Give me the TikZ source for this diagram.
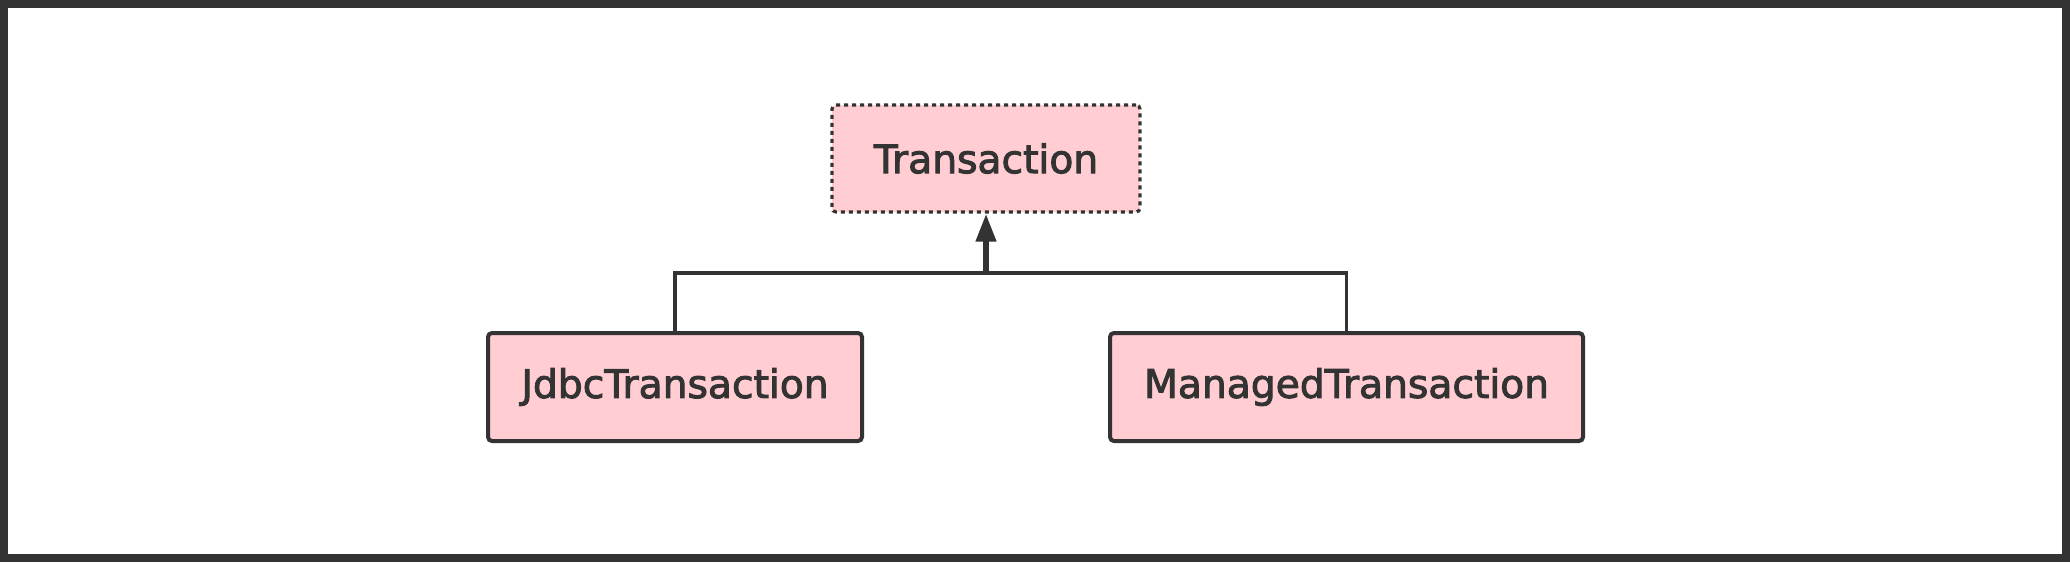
\documentclass[tikz,border=0pt]{standalone}
\usepackage{fontspec}
\setmainfont{DejaVu Sans}
\newfontfamily\labelfont{DejaVu Sans}[FakeBold=2.5]
\usetikzlibrary{arrows.meta}
\definecolor{boxfill}{HTML}{FFCDD2}
\definecolor{ink}{HTML}{333333}
\tikzset{
  cls/.style={draw=ink, fill=boxfill, line width=2pt, rounded corners=2pt,
    text=ink, inner sep=0pt, minimum height=54pt,
    font=\labelfont\fontsize{19.6}{23}\selectfont},
  iface/.style={cls, line width=1.6pt, dash pattern=on 2pt off 2pt},
  link/.style={draw=ink, line width=1.7pt},
}
\begin{document}
\begin{tikzpicture}[x=1pt,y=1pt]
  % frame
  \draw[ink, line width=3.8pt] (1.9,-1.9) rectangle (1033.1,-279.1);
  \node[iface, minimum width=154pt, minimum height=53.5pt] (trans) at (493,-79.25) {Transaction};
  \node[cls, minimum width=187pt] (jdbc) at (337.5,-193.5) {JdbcTransaction};
  \node[cls, minimum width=236.5pt] (managed) at (673.25,-193.5) {ManagedTransaction};
  \coordinate (bus) at (493,-136.5);
  \path[link]
    (jdbc.north) |- (bus) -| (managed.north);
  \draw[link, line width=3pt, -{Triangle[length=14pt,width=9.7pt]}] (bus) -- (trans.south);
\end{tikzpicture}
\end{document}
